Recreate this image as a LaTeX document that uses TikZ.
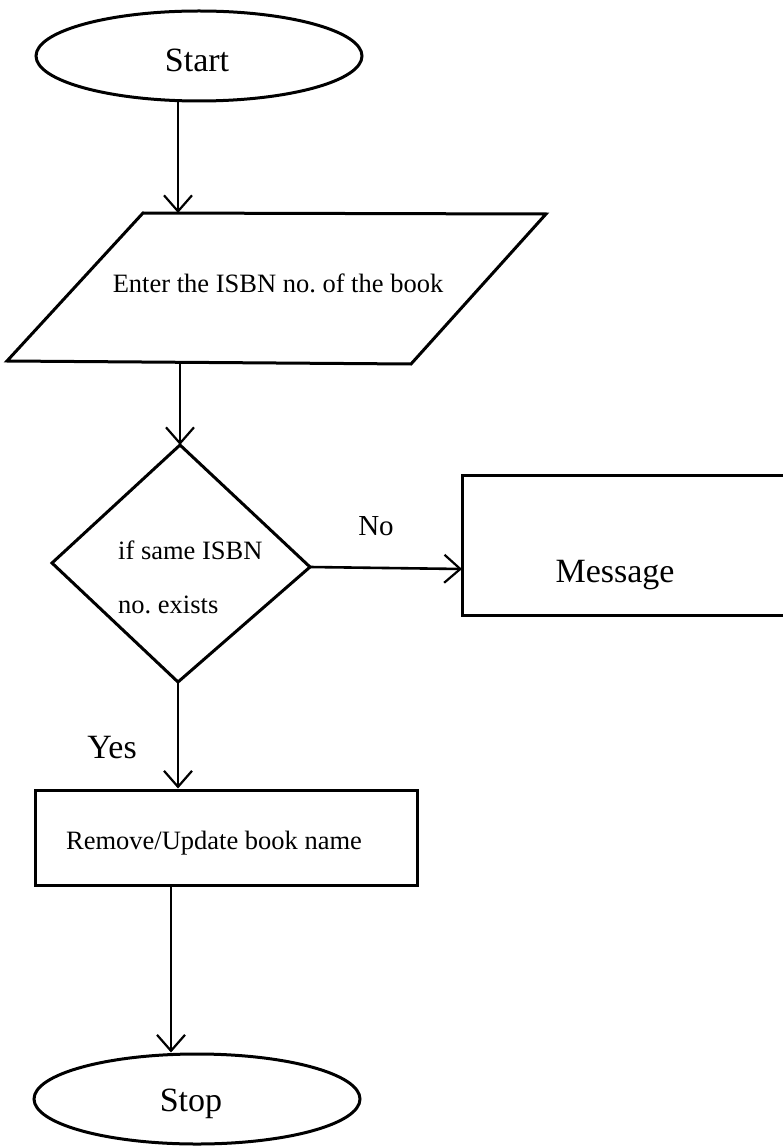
\documentclass[tikz,border=0pt]{standalone}
\usepackage{fontspec}
\setmainfont{Liberation Serif}
\frenchspacing
\usetikzlibrary{arrows.meta,shapes.geometric}
\begin{document}
\begin{tikzpicture}[x=1pt,y=-1pt,
  shapeline/.style={line width=3pt, line join=miter},
  conn/.style={line width=2.6pt, -{Straight Barb[length=16pt,width=28pt,line width=2.2pt]}},
  term/.style={ellipse, draw, line width=3pt, minimum width=326pt, minimum height=90pt, inner sep=0pt},
  bigtxt/.style={font=\fontsize{34}{40}\selectfont, inner sep=0pt},
  smalltxt/.style={font=\fontsize{26.5}{32}\selectfont, inner sep=0pt},
  notxt/.style={font=\fontsize{29}{34}\selectfont, inner sep=0pt}]
\useasboundingbox (0,0) rectangle (783,1147);

% Start
\node[term] (start) at (199,56) {};
\node[bigtxt] (starttxt) at (197,60) {Start};

% Input parallelogram
\coordinate (pTL) at (143,213);
\coordinate (pTR) at (546,214);
\coordinate (pBR) at (411,364);
\coordinate (pBL) at (7,361);
\draw[shapeline] (pTL) -- (pTR) -- (pBR) -- (pBL) -- cycle;
\node[smalltxt] (entertxt) at (278,283) {Enter the ISBN no. of the book};
\coordinate (pin) at (178,213);
\coordinate (pout) at (180,362);

% Decision diamond
\coordinate (dT) at (180,445);
\coordinate (dL) at (52,563);
\coordinate (dR) at (310,567);
\coordinate (dB) at (178,682);
\draw[shapeline] (dT) -- (dR) -- (dB) -- (dL) -- cycle;
\node[smalltxt, anchor=west] (ift1) at (118,550) {if same ISBN};
\node[smalltxt, anchor=west] (ift2) at (118,605) {no. exists};

% Message box (cut off at right edge)
\coordinate (mTL) at (462,475);
\coordinate (mBL) at (462,615);
\coordinate (mTR) at (790,475);
\coordinate (mBR) at (790,615);
\draw[shapeline] (mTR) -- (mTL) -- (mBL) -- (mBR);
\coordinate (min) at (462,569);
\node[bigtxt] (msgtxt) at (615,575) {Message};

% Process box
\node[draw, line width=3pt, minimum width=382pt, minimum height=95pt, inner sep=0pt] (rem) at (226,837.5) {};
\node[smalltxt] (remtxt) at (214,843) {Remove/Update book name};

% Stop
\node[term] (stop) at (197,1099) {};
\node[bigtxt] (stoptxt) at (191,1104) {Stop};

% Connectors
\draw[conn] (start.south -| pin) -- (pin);
\draw[conn] (pout) -- (dT);
\draw[conn] (dR) -- (min);
\draw[conn] (dB) -- (dB |- rem.north);
\draw[conn] (rem.south -| 171,0) -- (stop.north -| 171,0);

% Labels
\node[notxt] (nolbl) at (376,526) {No};
\node[bigtxt] (yeslbl) at (112,748) {Yes};
\end{tikzpicture}
\end{document}
